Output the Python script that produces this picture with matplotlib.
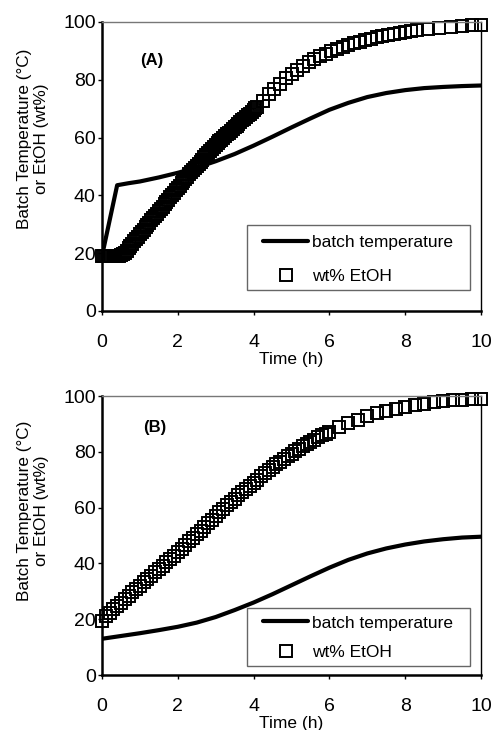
import matplotlib
matplotlib.use("Agg")
import matplotlib.pyplot as plt
from matplotlib.patches import Rectangle

plt.rcParams['font.family'] = ['Liberation Sans', 'DejaVu Sans']

# panel A - batch temperature
temp_a_t = [0, 0.4, 0.7, 1, 1.5, 2, 2.5, 3, 3.5, 4, 4.5, 5, 5.5, 6, 6.5, 7, 7.5, 8, 8.5, 9, 9.5, 10]
temp_a = [19, 43.5, 44.2, 44.8, 46.2, 47.8, 49.6, 51.8, 54.3, 57.2, 60.3, 63.5, 66.6, 69.6, 72.0,
          74.0, 75.4, 76.4, 77.1, 77.5, 77.8, 78.0]

# panel A - wt% EtOH
etoh_a_t = [0.00, 0.05, 0.10, 0.15, 0.20, 0.25, 0.30, 0.35, 0.40, 0.45,
            0.50, 0.55, 0.60, 0.65, 0.70, 0.75, 0.80, 0.85, 0.90, 0.95,
            1.00, 1.05, 1.10, 1.15, 1.20, 1.25, 1.30, 1.35, 1.40, 1.45,
            1.50, 1.55, 1.60, 1.65, 1.70, 1.75, 1.80, 1.85, 1.90, 1.95,
            2.00, 2.05, 2.10, 2.15, 2.20, 2.25, 2.30, 2.35, 2.40, 2.45,
            2.50, 2.55, 2.60, 2.65, 2.70, 2.75, 2.80, 2.85, 2.90, 2.95,
            3.00, 3.05, 3.10, 3.15, 3.20, 3.25, 3.30, 3.35, 3.40, 3.45,
            3.50, 3.55, 3.60, 3.65, 3.70, 3.75, 3.80, 3.85, 3.90, 3.95,
            4.00, 4.05, 4.10,
            4.25, 4.40, 4.55, 4.70, 4.85, 5.00, 5.15, 5.30, 5.45, 5.60,
            5.75, 5.90, 6.05, 6.20, 6.35, 6.50, 6.65, 6.80, 6.95, 7.10,
            7.25, 7.40, 7.55, 7.70, 7.85, 8.00, 8.15,
            8.30, 8.60, 8.90, 9.20, 9.50, 9.75, 10.00]
etoh_a = [19.0, 19.0, 19.0, 19.0, 19.0, 19.0, 19.0, 19.0, 19.0, 19.0,
          19.2, 19.6, 20.2, 20.9, 21.7, 22.5, 23.3, 24.1, 24.9, 25.7,
          26.5, 27.3, 28.1, 28.9, 29.7, 30.5, 31.3, 32.1, 32.9, 33.7,
          34.5, 35.3, 36.1, 36.9, 37.7, 38.5, 39.3, 40.1, 40.9, 41.7,
          42.5, 43.3, 44.1, 44.9, 45.7, 46.5, 47.3, 48.1, 48.9, 49.6,
          50.3, 51.0, 51.7, 52.4, 53.1, 53.8, 54.5, 55.2, 55.9, 56.6,
          57.3, 58.0, 58.7, 59.3, 59.9, 60.5, 61.1, 61.7, 62.3, 62.9,
          63.5, 64.1, 64.7, 65.3, 65.9, 66.5, 67.1, 67.7, 68.3, 68.9,
          69.5, 70.1, 70.7,
          72.8, 74.9, 76.8, 78.6, 80.5, 82.1, 83.5, 84.8, 86.0, 87.1,
          88.1, 89.0, 89.8, 90.6, 91.3, 92.0, 92.6, 93.2, 93.7, 94.2,
          94.7, 95.1, 95.5, 95.9, 96.2, 96.5, 96.8,
          97.1, 97.6, 98.0, 98.4, 98.7, 98.9, 99.1]

# panel B - batch temperature
temp_b_t = [0, 0.5, 1, 1.5, 2, 2.5, 3, 3.5, 4, 4.5, 5, 5.5, 6, 6.5, 7, 7.5, 8, 8.5, 9, 9.5, 10]
temp_b = [13.0, 14.0, 15.0, 16.1, 17.3, 18.8, 20.8, 23.3, 26.0, 29.0, 32.2, 35.4, 38.5, 41.3,
          43.6, 45.4, 46.8, 47.9, 48.7, 49.3, 49.6]

# panel B - wt% EtOH
etoh_b_t = [0.0, 0.1, 0.2, 0.3, 0.4, 0.5, 0.6, 0.7, 0.8, 0.9,
            1.0, 1.1, 1.2, 1.3, 1.4, 1.5, 1.6, 1.7, 1.8, 1.9,
            2.0, 2.1, 2.2, 2.3, 2.4, 2.5, 2.6, 2.7, 2.8, 2.9,
            3.0, 3.1, 3.2, 3.3, 3.4, 3.5, 3.6, 3.7, 3.8, 3.9,
            4.0, 4.1, 4.2, 4.3, 4.4, 4.5, 4.6, 4.7, 4.8, 4.9,
            5.0, 5.1, 5.2, 5.3, 5.4, 5.5, 5.6, 5.7, 5.8, 5.9, 6.0,
            6.25, 6.5, 6.75, 7.0, 7.25, 7.5, 7.75, 8.0, 8.25, 8.5,
            8.75, 9.0, 9.25, 9.5, 9.75, 10.0]
etoh_b = [19.5, 21.0, 22.3, 23.6, 24.8, 26.0, 27.2, 28.4, 29.6, 30.8,
          32.0, 33.2, 34.4, 35.6, 36.8, 38.0, 39.2, 40.4, 41.6, 42.8,
          44.0, 45.3, 46.6, 47.9, 49.2, 50.5, 51.8, 53.1, 54.4, 55.7,
          57.0, 58.3, 59.6, 60.8, 62.0, 63.2, 64.4, 65.6, 66.8, 67.9,
          69.0, 70.1, 71.2, 72.3, 73.4, 74.5, 75.5, 76.5, 77.5, 78.4,
          79.3, 80.2, 81.1, 82.0, 82.8, 83.6, 84.4, 85.2, 85.9, 86.6, 87.3,
          88.9, 90.3, 91.6, 92.8, 93.8, 94.7, 95.5, 96.2, 96.8, 97.3,
          97.8, 98.2, 98.5, 98.8, 99.0, 99.1]

# (tag, temp t, temp, etoh t, etoh, axes rect, legend frame, legend anchor, labelspacing, tag pos, ylabel y)
panels = [
    ("(A)", temp_a_t, temp_a, etoh_a_t, etoh_a, [0.2077, 0.574, 0.772, 0.396],
     (0.3826, 0.0727, 0.588, 0.225), (0.4248, 0.262), 1.05, (0.10, 0.868), 0.597),
    ("(B)", temp_b_t, temp_b, etoh_b_t, etoh_b, [0.2077, 0.0753, 0.772, 0.382],
     (0.3826, 0.0323, 0.588, 0.208), (0.4248, 0.214), 0.82, (0.108, 0.889), 0.588),
]

fig = plt.figure(figsize=(4.91, 7.30), dpi=100)

for (tag, tt, temp, et, etoh, rect, frame, anchor, lspace, tag_pos, ylab_y) in panels:
    ax = fig.add_axes(rect)
    ax.plot(tt, temp, color='black', lw=3, label='batch temperature', solid_capstyle='round')
    ax.plot(et, etoh, linestyle='none', marker='s', markersize=8, mfc='none', mec='black',
            mew=1.4, label='wt% EtOH', clip_on=False)
    ax.set_xlim(0, 10)
    ax.set_ylim(0, 100)
    ax.set_xticks([0, 2, 4, 6, 8, 10])
    ax.set_yticks([0, 20, 40, 60, 80, 100])
    ax.tick_params(axis='x', direction='out', length=3, width=1, pad=13.5, labelsize=14)
    ax.tick_params(axis='y', direction='out', length=3, width=1, pad=1.5, labelsize=14)
    ax.spines['left'].set_linewidth(1.8)
    ax.spines['bottom'].set_linewidth(1.8)
    ax.spines['right'].set_linewidth(1.0)
    ax.spines['top'].set_linewidth(1.0)
    ax.spines['top'].set_color('#777777')
    ax.spines['top'].set_linestyle((0, (1, 1)))
    ax.set_xlabel('Time (h)', fontsize=12.5, labelpad=1)
    ax.set_ylabel('Batch Temperature (°C)\nor EtOH (wt%)', fontsize=12.3)
    ax.yaxis.set_label_coords(-0.14, ylab_y)
    ax.text(tag_pos[0], tag_pos[1], tag, transform=ax.transAxes, fontsize=12,
            fontweight='bold', ha='left', va='center')
    ax.add_patch(Rectangle((frame[0], frame[1]), frame[2], frame[3], transform=ax.transAxes,
                           fill=True, facecolor='white', edgecolor='#666666', lw=1.0, zorder=4))
    leg = ax.legend(loc='upper left', bbox_to_anchor=anchor, fontsize=12.5, frameon=False,
                    handlelength=2.6, borderpad=0, labelspacing=lspace, handletextpad=0.2,
                    borderaxespad=0)
    leg.set_zorder(5)

fig.savefig('out.png', dpi=100)
